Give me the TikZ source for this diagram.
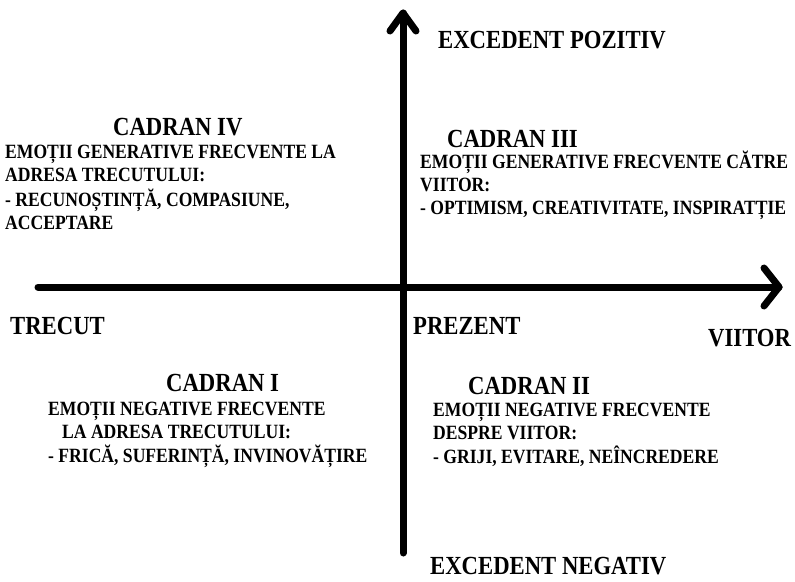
\documentclass[tikz,border=0pt]{standalone}
\usepackage{fontspec}
\setmainfont{Liberation Serif}
\newcommand{\tallbox}[1]{\scalebox{1}[1.15]{#1}}
\newcommand{\blocktext}[1]{\tallbox{\begin{tabular}{@{}l@{}}#1\end{tabular}}}
\begin{document}
\begin{tikzpicture}[x=1pt,y=-1pt,
  axis/.style={line width=7pt,line cap=round,line join=round},
  head/.style={font=\bfseries\fontsize{22.7}{26}\selectfont,inner sep=0pt,anchor=base west},
  body/.style={font=\bfseries\fontsize{17.6}{20}\selectfont,inner sep=0pt,anchor=north west},
  bodyb/.style={font=\bfseries\fontsize{17.6}{19.3}\selectfont,inner sep=0pt,anchor=north west}]
\useasboundingbox[fill=white] (0,0) rectangle (795,581);
% axes
\coordinate (hl) at (38,287);
\coordinate (hr) at (779,287);
\coordinate (ha1) at (764,268);
\coordinate (ha2) at (764,306);
\coordinate (vb) at (403,553);
\coordinate (vt) at (403,13);
\coordinate (va1) at (390,31);
\coordinate (va2) at (416,31);
\draw[axis] (hl) -- (hr);
\draw[axis] (ha1) -- (hr) -- (ha2);
\draw[axis] (vb) -- (vt);
\draw[axis] (va1) -- (vt) -- (va2);
% axis labels
\node[head] (pos) at (438,48.5) {\tallbox{EXCEDENT POZITIV}};
\node[head] (neg) at (430,574) {\tallbox{EXCEDENT NEGATIV}};
\node[head] (trecut) at (10,334) {\tallbox{TRECUT}};
\node[head] (prezent) at (413,334) {\tallbox{PREZENT}};
\node[head] (viitor) at (708,346) {\tallbox{VIITOR}};
% quadrant IV
\node[head] (c4) at (113,135.5) {\tallbox{CADRAN IV}};
\node[body] (t4) at (5,142.6) {\blocktext{EMOȚII GENERATIVE FRECVENTE LA\\ADRESA TRECUTULUI:\\- RECUNOȘTINȚĂ, COMPASIUNE,\\ACCEPTARE}};
% quadrant III
\node[head] (c3) at (447,147) {\tallbox{CADRAN III}};
\node[body] (t3) at (420,150.6) {\blocktext{EMOȚII GENERATIVE FRECVENTE CĂTRE\\VIITOR:\\- OPTIMISM, CREATIVITATE, INSPIRATȚIE}};
% quadrant I
\node[head] (c1) at (166,391) {\tallbox{CADRAN I}};
\node[bodyb] (t1) at (48,400.2) {\blocktext{EMOȚII NEGATIVE FRECVENTE\\\hspace*{14pt}LA ADRESA TRECUTULUI:\\- FRICĂ, SUFERINȚĂ, INVINOVĂȚIRE}};
% quadrant II
\node[head] (c2) at (468,394.5) {\tallbox{CADRAN II}};
\node[bodyb] (t2) at (433,401.2) {\blocktext{EMOȚII NEGATIVE FRECVENTE\\DESPRE VIITOR:\\- GRIJI, EVITARE, NEÎNCREDERE}};
\end{tikzpicture}
\end{document}
